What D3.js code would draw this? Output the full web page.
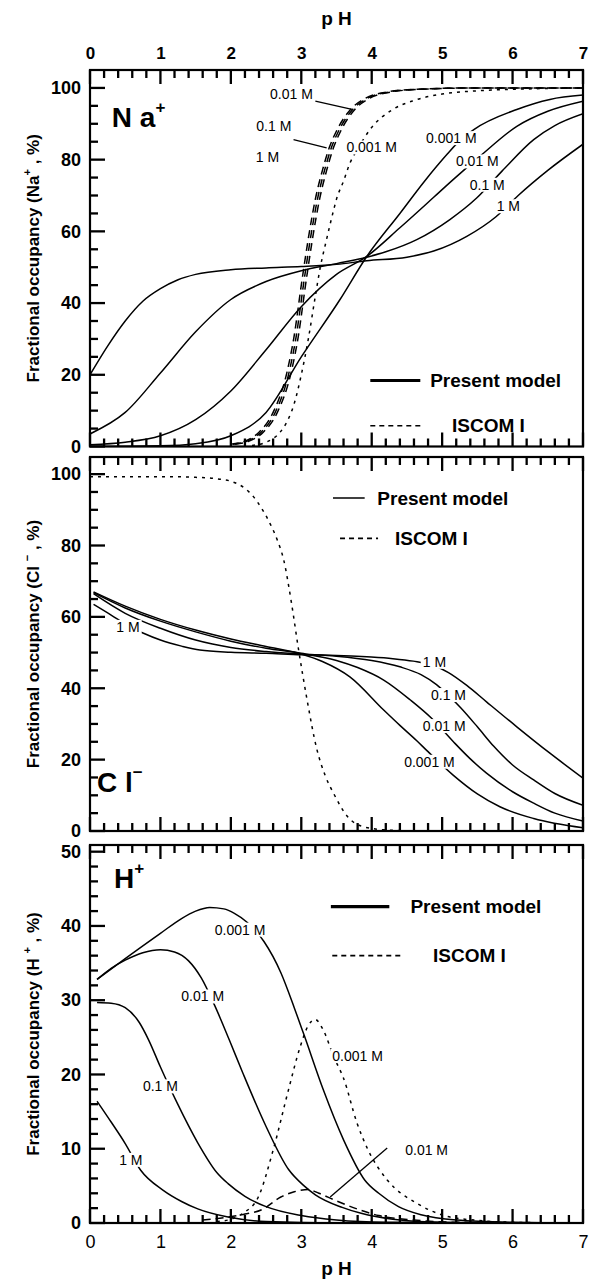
<!DOCTYPE html>
<html>
<head>
<meta charset="utf-8">
<script src="https://cdn.jsdelivr.net/npm/d3@7"></script>
<style>
  body { margin: 0; background: #fff; }
  svg text { font-family: "Liberation Sans", Arial, Helvetica, sans-serif; }
</style>
</head>
<body>
<div id="chart"></div>
<script>
// ---- data (pH, %) ----
const pHTicks = [0, 1, 2, 3, 4, 5, 6, 7]

// Na+ : present model
const naModel0001 = [[0,0],[1,0.2],[1.5,0.8],[2,3],[2.5,9.5],[3,25],[3.55,41],[3.93,53],[4.4,65],[4.75,74],[5.07,81.5],[5.25,85.3],[5.45,88.4],[6.06,94],[6.53,96.8],[7,98]]
const naModel001 = [[0,0.5],[0.5,1.2],[1,3],[1.5,7.5],[2,15.5],[2.5,27],[3,39],[3.5,48],[3.93,53],[4.4,61],[4.88,69.5],[5.16,74.5],[5.54,81],[6.06,89.3],[6.5,93.5],[7,96.3]]
const naModel01 = [[0,3.5],[0.5,9.5],[1,20.5],[1.5,32],[2,41],[2.5,46],[3,49],[3.5,51],[3.93,52.8],[4.2,54.3],[4.64,57.7],[5.11,63.3],[5.49,69.3],[5.85,76.8],[6.3,85.6],[6.6,89.5],[7,92.8]]
const naModel1 = [[0,20],[0.25,28],[0.5,35],[0.75,40.5],[1,44],[1.25,46.5],[1.5,48],[2,49.3],[2.5,49.8],[3,50.2],[3.5,50.8],[3.93,51.8],[4.5,52.8],[4.88,54.5],[5.35,58.6],[5.76,64],[6.08,70],[6.5,77],[7,84.3]]
// Na+ : ISCOM I
const naIscom0001 = [[2.3,0.3],[2.5,1.2],[2.7,4],[2.8,7],[2.9,12],[3,20],[3.1,30],[3.2,42],[3.27,50],[3.35,57],[3.46,66],[3.5,69],[3.6,74],[3.69,79],[3.8,83],[4,89],[4.3,94],[4.6,96.5],[5,98.3],[5.5,99.2],[6,99.6],[7,100]]
const naIscom001 = [[2.06,0.6],[2.26,1.5],[2.46,4],[2.66,9.5],[2.86,21],[2.96,31],[3.06,45],[3.16,58],[3.26,69],[3.36,77],[3.46,83.5],[3.56,88],[3.76,94],[3.96,97],[4.26,98.8],[4.66,99.6],[5.5,100],[7,100]]
const naIscom01 = [[2.03,0.6],[2.23,1.5],[2.43,4],[2.63,9.5],[2.83,21],[2.93,31],[3.03,45],[3.13,58],[3.23,69],[3.33,77],[3.43,83.5],[3.53,88],[3.73,94],[3.93,97],[4.23,98.8],[4.63,99.6],[5.5,100],[7,100]]
const naIscom1 = [[2,0.6],[2.2,1.5],[2.4,4],[2.6,9.5],[2.8,21],[2.9,31],[3,45],[3.1,58],[3.2,69],[3.3,77],[3.4,83.5],[3.5,88],[3.7,94],[3.9,97],[4.2,98.8],[4.6,99.6],[5.5,100],[7,100]]

// Cl- : present model
const clModel0001 = [[0.05,67],[0.5,63],[1,59.3],[1.5,56.3],[2,53.8],[2.5,51.7],[3,49.6],[3.3,47.5],[3.69,43.2],[4.17,33.9],[4.4,29.6],[4.64,25.3],[4.78,22.6],[5.16,15.6],[5.5,10.4],[5.82,6.8],[6.3,3.5],[7,0.9]]
const clModel001 = [[0.05,66.8],[0.5,62.5],[1,58.8],[1.5,55.8],[2,53.2],[2.5,51.2],[3,49.8],[3.5,47.8],[3.8,45.8],[4.17,42.3],[4.55,36.7],[4.85,31.6],[5.16,25],[5.4,20.2],[5.63,16.2],[6,11],[6.3,7.8],[6.6,5],[7,2.8]]
const clModel01 = [[0.05,66.5],[0.5,61],[1,56.8],[1.5,53.5],[2,51.4],[2.5,50.3],[3,49.6],[3.5,49],[4,47.8],[4.4,46],[4.7,43.8],[4.92,41],[5.09,38],[5.26,34.6],[5.5,29.2],[5.73,23.8],[6,18.5],[6.3,14.3],[6.6,10.5],[7,7.2]]
const clModel1 = [[0.05,63.5],[0.3,60.5],[0.54,57.5],[0.76,55.4],[1,53.5],[1.3,51.8],[1.56,50.7],[2,50.1],[2.5,49.8],[3,49.4],[3.5,49.2],[3.93,48.8],[4.3,48.3],[4.59,47.6],[4.89,46.3],[5.09,44.4],[5.35,40.8],[5.63,36.2],[6.06,29.2],[6.53,21.8],[7,14.8]]
// Cl- : ISCOM I
const clIscom = [[0,99.3],[1,99.3],[1.5,99.1],[1.8,98.7],[2,98],[2.2,96],[2.32,93.7],[2.45,90],[2.56,86],[2.66,81.5],[2.75,76],[2.86,64],[2.96,51],[3.08,37],[3.22,23],[3.34,15.5],[3.46,10.5],[3.65,4.2],[3.88,1.2],[4.2,0.3],[4.6,0]]

// H+ : present model
const hModel0001 = [[0.1,32.8],[0.5,35.6],[1,39],[1.3,41],[1.5,42],[1.7,42.5],[1.9,42.3],[2.05,41.7],[2.23,40.5],[2.47,37.9],[2.71,33.7],[2.9,29],[3.04,25.3],[3.31,18],[3.6,11.2],[3.9,5.8],[4.1,4],[4.38,2.2],[4.7,1.1],[5.2,0.4],[6,0.1],[7,0]]
const hModel001 = [[0.1,32.8],[0.3,34.3],[0.5,35.4],[0.75,36.4],[1,36.8],[1.2,36.5],[1.4,35.3],[1.58,33],[1.77,29.3],[1.98,24.6],[2.17,20.2],[2.5,13],[2.82,7.2],[3.04,5],[3.2,3.8],[3.58,2.1],[3.85,1.3],[4.3,0.5],[4.65,0.2],[5.5,0],[7,0]]
const hModel01 = [[0.1,29.7],[0.3,29.6],[0.5,29],[0.7,27],[0.83,24.7],[1,21],[1.23,16.3],[1.53,10.8],[1.8,6.8],[1.96,5.3],[2.2,3.6],[2.5,2.2],[3,1],[3.5,0.4],[4.2,0.1],[7,0]]
const hModel1 = [[0.1,16.4],[0.3,13.6],[0.5,10.7],[0.72,7.1],[1.04,4.4],[1.3,2.9],[1.53,1.9],[1.96,0.8],[2.5,0.2],[3.5,0],[7,0]]
// H+ : ISCOM I
const hIscom0001 = [[1.8,0.2],[2,0.5],[2.17,1.3],[2.39,3.5],[2.6,9.8],[2.82,18],[2.98,23.6],[3.1,26.6],[3.2,27.4],[3.3,26.2],[3.47,22.2],[3.6,19.5],[3.79,13.5],[3.95,9.8],[4.22,5.8],[4.65,2.6],[5.03,1],[5.5,0.35],[6,0.1],[7,0]]
const hIscom001 = [[1.6,0.4],[1.96,0.8],[2.2,1.2],[2.44,1.8],[2.71,3.5],[2.9,4.2],[3.1,4.5],[3.25,4],[3.47,3.1],[3.85,1.7],[4.1,1],[4.6,0.4],[5.2,0.1],[7,0]]

// curve labels: [text, pH, %]
const naLabels = [["0.001 M",5.13,86],["0.01 M",5.5,79.5],["0.1 M",5.64,73],["1 M",5.94,67],
                  ["0.01 M",2.86,98.2],["0.1 M",2.61,89.3],["1 M",2.52,80.6],["0.001 M",4.0,83.4]]
const naLeaders = [[[3.2,96.3],[3.72,94]], [[2.89,85.6],[3.36,83.3]]]
const clLabels = [["1 M",0.54,57.2],["1 M",4.89,47.4],["0.1 M",5.09,38.1],["0.01 M",5.03,29.4],["0.001 M",4.82,19.4]]
const hLabels = [["0.001 M",2.13,39.5],["0.01 M",1.6,30.5],["0.1 M",1.0,18.4],["1 M",0.58,8.5],
                 ["0.001 M",3.8,22.5],["0.01 M",4.78,9.8]]
const hLeaders = [[[3.41,3.5],[4.22,10.1]]]

// ---- layout ----
const x = d3.scaleLinear().domain([0, 7]).range([90, 583])
const minorX = d3.range(1, 35).map(i => i / 5).filter(v => Math.abs(v - Math.round(v)) > 0.01)

const svg = d3.select("#chart")
  .append("svg")
    .attr("width", 590)
    .attr("height", 1280)

const line = y => d3.line()
  .x(d => x(d[0]))
  .y(d => y(d[1]))
  .curve(d3.curveMonotoneX)

// tick marks pointing into the frame
function xTicks(g, values, y0, len) {
  g.append("g").selectAll("line")
    .data(values)
    .join("line")
      .attr("x1", d => x(d)).attr("x2", d => x(d))
      .attr("y1", y0).attr("y2", y0 + len)
      .attr("stroke", "#000").attr("stroke-width", 2.3)
}
function yTicks(g, y, values, len) {
  g.append("g").selectAll("line")
    .data(values)
    .join("line")
      .attr("x1", x(0)).attr("x2", x(0) + len)
      .attr("y1", d => y(d)).attr("y2", d => y(d))
      .attr("stroke", "#000").attr("stroke-width", 2.3)
}

function drawPanel(p) {
  const y = d3.scaleLinear().domain([0, p.yTop]).range([p.bottom, p.top])
  const g = svg.append("g")

  g.append("clipPath").attr("id", p.id)
    .append("rect")
    .attr("x", x(0)).attr("y", p.top)
    .attr("width", x(7) - x(0)).attr("height", p.bottom - p.top)

  // curves
  const curves = g.append("g").attr("clip-path", `url(#${p.id})`)
  p.series.forEach(s => {
    curves.append("path")
      .attr("d", line(y)(s.data))
      .attr("fill", "none")
      .attr("stroke", "#000")
      .attr("stroke-width", 1.5)
      .attr("stroke-dasharray", s.dash || null)
  })

  ;(p.leaders || []).forEach(l => {
    g.append("path")
      .attr("d", d3.line().x(d => x(d[0])).y(d => y(d[1]))(l))
      .attr("stroke", "#000").attr("stroke-width", 1.3).attr("fill", "none")
  })

  // curve labels with white knock-out
  p.labels.forEach(([t, ph, v]) => {
    const lg = g.append("g")
    const txt = lg.append("text")
      .attr("x", x(ph)).attr("y", y(v))
      .attr("text-anchor", "middle")
      .attr("dominant-baseline", "central")
      .attr("font-size", 14)
      .text(t)
    const b = txt.node().getBBox()
    lg.insert("rect", "text")
      .attr("x", b.x - 2).attr("y", b.y + 1)
      .attr("width", b.width + 4).attr("height", b.height - 2)
      .attr("fill", "#fff")
  })

  // ticks
  xTicks(g, pHTicks, p.top, 14)
  xTicks(g, minorX, p.top, 8)
  xTicks(g, pHTicks, p.bottom, -14)
  xTicks(g, minorX, p.bottom, -8)
  yTicks(g, y, p.yMajor, 15)
  yTicks(g, y, p.yMinor, 8)

  // tick labels through d3 axes
  const ax = g.append("g").attr("transform", `translate(${x(0)},0)`)
    .call(d3.axisLeft(y).tickValues(p.yMajor).tickSize(0).tickPadding(9).tickFormat(d3.format("d")))
  ax.select(".domain").remove()
  ax.selectAll("text").attr("font-size", 18).attr("font-weight", "bold")
    .attr("font-family", "Liberation Sans, Arial, sans-serif").attr("fill", "#000")

  if (p.topLabels) {
    const at = g.append("g").attr("transform", `translate(0,${p.top})`)
      .call(d3.axisTop(x).tickValues(pHTicks).tickSize(0).tickPadding(11).tickFormat(d3.format("d")))
    at.select(".domain").remove()
    at.selectAll("text").attr("font-size", 17).attr("font-weight", "bold")
      .attr("font-family", "Liberation Sans, Arial, sans-serif").attr("fill", "#000")
  }
  if (p.bottomLabels) {
    const ab = g.append("g").attr("transform", `translate(0,${p.bottom})`)
      .call(d3.axisBottom(x).tickValues(pHTicks).tickSize(0).tickPadding(12).tickFormat(d3.format("d")))
    ab.select(".domain").remove()
    ab.selectAll("text").attr("font-size", 18)
      .attr("font-family", "Liberation Sans, Arial, sans-serif").attr("fill", "#000")
  }

  // frame
  g.append("rect")
    .attr("x", x(0)).attr("y", p.top)
    .attr("width", x(7) - x(0)).attr("height", p.bottom - p.top)
    .attr("fill", "none").attr("stroke", "#000").attr("stroke-width", 2.2)

  // legend
  const lgd = p.legend
  g.append("line")
    .attr("x1", x(lgd.solid[0])).attr("x2", x(lgd.solid[1]))
    .attr("y1", y(lgd.solid[2])).attr("y2", y(lgd.solid[2]))
    .attr("stroke", "#000").attr("stroke-width", lgd.thick)
  g.append("text")
    .attr("x", x(lgd.solid[3])).attr("y", y(lgd.solid[2]))
    .attr("dominant-baseline", "central")
    .attr("font-size", 19).attr("font-weight", "bold")
    .text("Present model")
  g.append("line")
    .attr("x1", x(lgd.dash[0])).attr("x2", x(lgd.dash[1]))
    .attr("y1", y(lgd.dash[2])).attr("y2", y(lgd.dash[2]))
    .attr("stroke", "#000").attr("stroke-width", 1.6)
    .attr("stroke-dasharray", "5,4")
  g.append("text")
    .attr("x", x(lgd.dash[3])).attr("y", y(lgd.dash[2]))
    .attr("dominant-baseline", "central")
    .attr("font-size", 19).attr("font-weight", "bold")
    .text("ISCOM I")

  // ion label
  const ion = g.append("text")
    .attr("x", x(p.ion.pH)).attr("y", y(p.ion.v))
    .attr("dominant-baseline", "central")
    .attr("font-size", 28).attr("font-weight", "bold")
  ion.append("tspan").text(p.ion.text)
  ion.append("tspan").attr("font-size", 17).attr("dy", -10).text(p.ion.sup)

  // y title
  const cy = (p.top + p.bottom) / 2
  const yt = g.append("text")
    .attr("transform", `translate(33,${cy}) rotate(-90)`)
    .attr("text-anchor", "middle")
    .attr("dominant-baseline", "central")
    .attr("font-size", 17).attr("font-weight", "bold")
  yt.append("tspan").text(`Fractional occupancy  (${p.ion.title}`)
  yt.append("tspan").attr("font-size", 11).attr("dy", -6).text(p.ion.sup)
  yt.append("tspan").attr("dy", 6).text(" , %)")
}

drawPanel({
  id: "clipNa", top: 70, bottom: 446.5, yTop: 105,
  topLabels: true,
  yMajor: [0, 20, 40, 60, 80, 100],
  yMinor: d3.range(5, 105, 5).filter(v => v % 20),
  series: [
    { data: naModel0001 }, { data: naModel001 }, { data: naModel01 }, { data: naModel1 },
    { data: naIscom0001, dash: "3,5" }, { data: naIscom001, dash: "8,5" },
    { data: naIscom01, dash: "8,5" }, { data: naIscom1, dash: "8,5" }
  ],
  labels: naLabels,
  leaders: naLeaders,
  legend: { solid: [3.98, 4.69, 18.4, 4.83], dash: [3.98, 4.69, 5.8, 5.14], thick: 3.2 },
  ion: { text: "N a", sup: "+", title: "Na", pH: 0.31, v: 92 }
})

drawPanel({
  id: "clipCl", top: 457, bottom: 831, yTop: 104.8,
  yMajor: [0, 20, 40, 60, 80, 100],
  yMinor: d3.range(5, 105, 5).filter(v => v % 20),
  series: [
    { data: clModel0001 }, { data: clModel001 }, { data: clModel01 }, { data: clModel1 },
    { data: clIscom, dash: "3,5" }
  ],
  labels: clLabels,
  legend: { solid: [3.45, 3.9, 93.3, 4.08], dash: [3.55, 4.09, 82, 4.33], thick: 1.6 },
  ion: { text: "C l", sup: "\u2212", title: "Cl ", pH: 0.1, v: 13.7 }
})

drawPanel({
  id: "clipH", top: 845, bottom: 1223, yTop: 50.9,
  bottomLabels: true,
  yMajor: [0, 10, 20, 30, 40, 50],
  yMinor: d3.range(2, 50, 2).filter(v => v % 10),
  series: [
    { data: hModel0001 }, { data: hModel001 }, { data: hModel01 }, { data: hModel1 },
    { data: hIscom0001, dash: "3,5" }, { data: hIscom001, dash: "8,5" }
  ],
  labels: hLabels,
  leaders: hLeaders,
  legend: { solid: [3.42, 4.25, 42.6, 4.55], dash: [3.44, 4.44, 36, 4.87], thick: 3.2 },
  ion: { text: "H", sup: "+", title: "H ", pH: 0.34, v: 46.5 }
})

// axis titles
svg.append("text")
  .attr("x", (x(0) + x(7)) / 2).attr("y", 18)
  .attr("text-anchor", "middle").attr("dominant-baseline", "central")
  .attr("font-size", 19).attr("font-weight", "bold")
  .text("p H")
svg.append("text")
  .attr("x", (x(0) + x(7)) / 2).attr("y", 1268)
  .attr("text-anchor", "middle").attr("dominant-baseline", "central")
  .attr("font-size", 19).attr("font-weight", "bold")
  .text("p H")
</script>
</body>
</html>
